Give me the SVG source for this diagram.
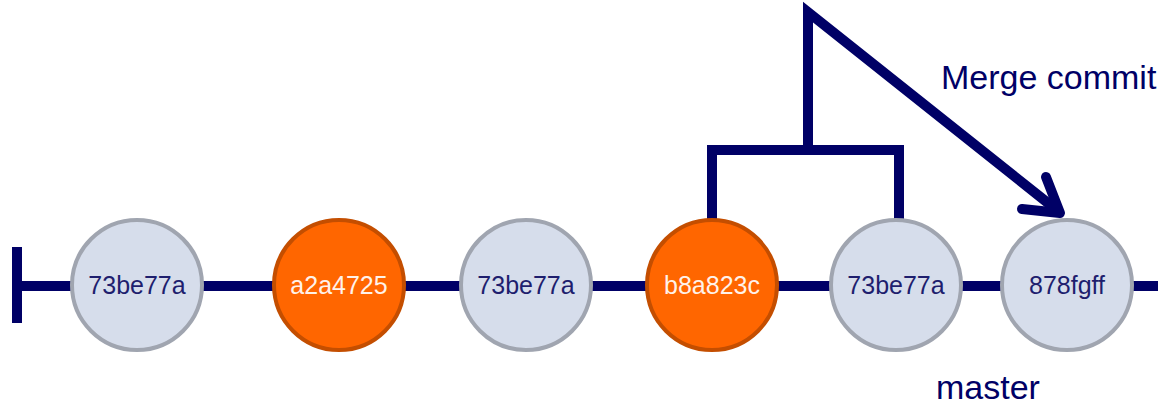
<svg xmlns="http://www.w3.org/2000/svg" width="1173" height="409" viewBox="0 0 1173 409">
<style>
.ln{stroke:#000066;stroke-width:10;fill:none;stroke-linejoin:miter;stroke-miterlimit:10}
.c{fill:#D6DDEB;stroke:#A0A5B0;stroke-width:4}
.o{fill:#FF6600;stroke:#C44E00;stroke-width:4}
.t{font-family:"Liberation Sans",Arial,sans-serif;font-size:25px;text-anchor:middle;fill:#1E1E6E}
.tw{fill:#FFF2EA}
.lab{font-family:"Liberation Sans",Arial,sans-serif;font-size:34px;fill:#000066}
</style>
<g id="connectors">
<line class="ln" x1="17" y1="286" x2="1158" y2="286"/>
<line class="ln" x1="17" y1="247" x2="17" y2="323"/>
<polyline class="ln" points="712,220 712,150 899,150 899,220"/>
<polyline class="ln" points="808,150 808,12 1058,211"/>
<polyline class="ln" points="1022,209 1060,213 1046,177" style="stroke-linejoin:round;stroke-linecap:round"/>
</g>
<g id="n1"><circle class="c" cx="137" cy="285" r="65"/><text class="t" x="137" y="294">73be77a</text></g>
<g id="n2"><circle class="o" cx="339" cy="285" r="65"/><text class="t tw" x="339" y="294">a2a4725</text></g>
<g id="n3"><circle class="c" cx="526" cy="285" r="65"/><text class="t" x="526" y="294">73be77a</text></g>
<g id="n4"><circle class="o" cx="712" cy="285" r="65"/><text class="t tw" x="712" y="294">b8a823c</text></g>
<g id="n5"><circle class="c" cx="896" cy="285" r="65"/><text class="t" x="896" y="294">73be77a</text></g>
<g id="n6"><circle class="c" cx="1067" cy="285" r="65"/><text class="t" x="1067" y="294">878fgff</text></g>
<g id="labels">
<text class="lab" x="941" y="89">Merge commit</text>
<text class="lab" x="936" y="399">master</text>
</g>
</svg>
